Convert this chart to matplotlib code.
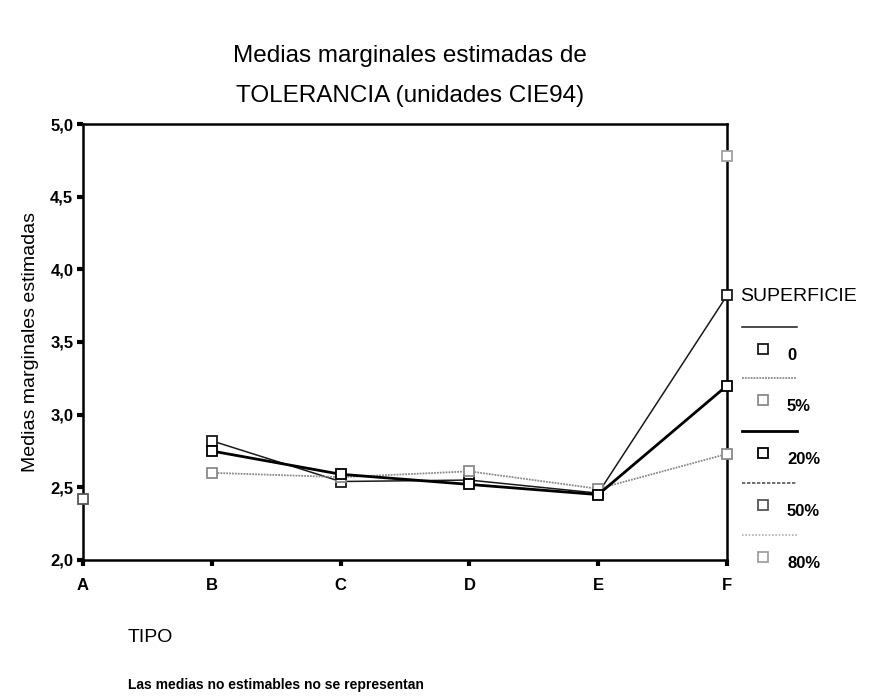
import numpy as np
import matplotlib
matplotlib.use("Agg")
import matplotlib.pyplot as plt
from matplotlib.lines import Line2D

plt.rcParams['font.family'] = ['Liberation Sans', 'DejaVu Sans']

tipos = ['A', 'B', 'C', 'D', 'E', 'F']
nan = np.nan
sup_0 = [nan, 2.82, 2.54, 2.55, 2.46, 3.82]
sup_5 = [nan, 2.60, 2.57, 2.61, 2.49, 2.73]
sup_20 = [nan, 2.75, 2.59, 2.52, 2.45, 3.20]
sup_50 = [2.42, nan, nan, nan, nan, nan]
sup_80 = [nan, nan, nan, nan, nan, 4.78]
series_names = ['0', '5%', '20%', '50%', '80%']
yticks = [2.0, 2.5, 3.0, 3.5, 4.0, 4.5, 5.0]

styles = [
    dict(color='#1a1a1a', lw=1.1, ls='-', mec='#1a1a1a'),
    dict(color='#8a8a8a', lw=1.3, ls=(0, (1, 0.6)), mec='#8a8a8a'),
    dict(color='#000000', lw=2.0, ls='-', mec='#000000'),
    dict(color='#555555', lw=1.2, ls=(0, (2, 1)), mec='#555555'),
    dict(color='#b0b0b0', lw=1.2, ls=(0, (1, 1)), mec='#a0a0a0'),
]

fig = plt.figure(figsize=(8.69, 6.98), dpi=100)
ax = fig.add_axes([83/869, 1 - 560/698, (727-83)/869, (560-124)/698])

x = np.arange(len(tipos))
for vals, st in zip([sup_0, sup_5, sup_20, sup_50, sup_80], styles):
    ax.plot(x, vals, color=st['color'], lw=st['lw'], ls=st['ls'],
            marker='s', ms=7, mfc='white', mec=st['mec'], mew=1.3, clip_on=False, zorder=3)

ax.set_xlim(0, 5)
ax.set_ylim(2.0, 5.0)
ax.set_xticks(x)
ax.set_xticklabels(tipos, fontsize=12, fontweight='bold')
ax.set_yticks(yticks)
ax.set_yticklabels([f"{v:.1f}".replace('.', ',') for v in yticks], fontsize=12, fontweight='bold')
ax.tick_params(direction='out', length=4, width=3, pad=3)
ax.tick_params(axis='x', pad=9)
for s in ax.spines.values():
    s.set_linewidth(1.8)
ax.set_ylabel('Medias marginales estimadas', fontsize=14)
ax.yaxis.set_label_coords(-44/644, 0.5)

fig.text(0.472, 1 - 56/698, 'Medias marginales estimadas de', ha='center', va='center', fontsize=17.5)
fig.text(0.472, 1 - 96/698, 'TOLERANCIA (unidades CIE94)', ha='center', va='center', fontsize=17.5)
fig.text(128/869, 1 - 637/698, 'TIPO', ha='left', va='center', fontsize=14)
fig.text(128/869, 1 - 685/698, 'Las medias no estimables no se representan',
         ha='left', va='center', fontsize=10, fontweight='bold')

# legend drawn by hand, SPSS style
fig.text(740/869, 1 - 297/698, 'SUPERFICIE', ha='left', va='center', fontsize=14)
line_y = [327, 378, 431, 483, 535]
for i, (name, st) in enumerate(zip(series_names, styles)):
    ly = 1 - line_y[i]/698
    fig.add_artist(Line2D([742/869, 797/869], [ly, ly], color=st['color'],
                          lw=st['lw'], ls=st['ls']))
    my = 1 - (line_y[i] + 22)/698
    fig.add_artist(Line2D([763/869], [my], marker='s', ms=7, mfc='white',
                          mec=st['mec'], mew=1.3, ls='none'))
    fig.text(787/869, 1 - (line_y[i] + 29)/698, name, ha='left', va='center',
             fontsize=12, fontweight='bold')

fig.savefig('out.png', dpi=100)
